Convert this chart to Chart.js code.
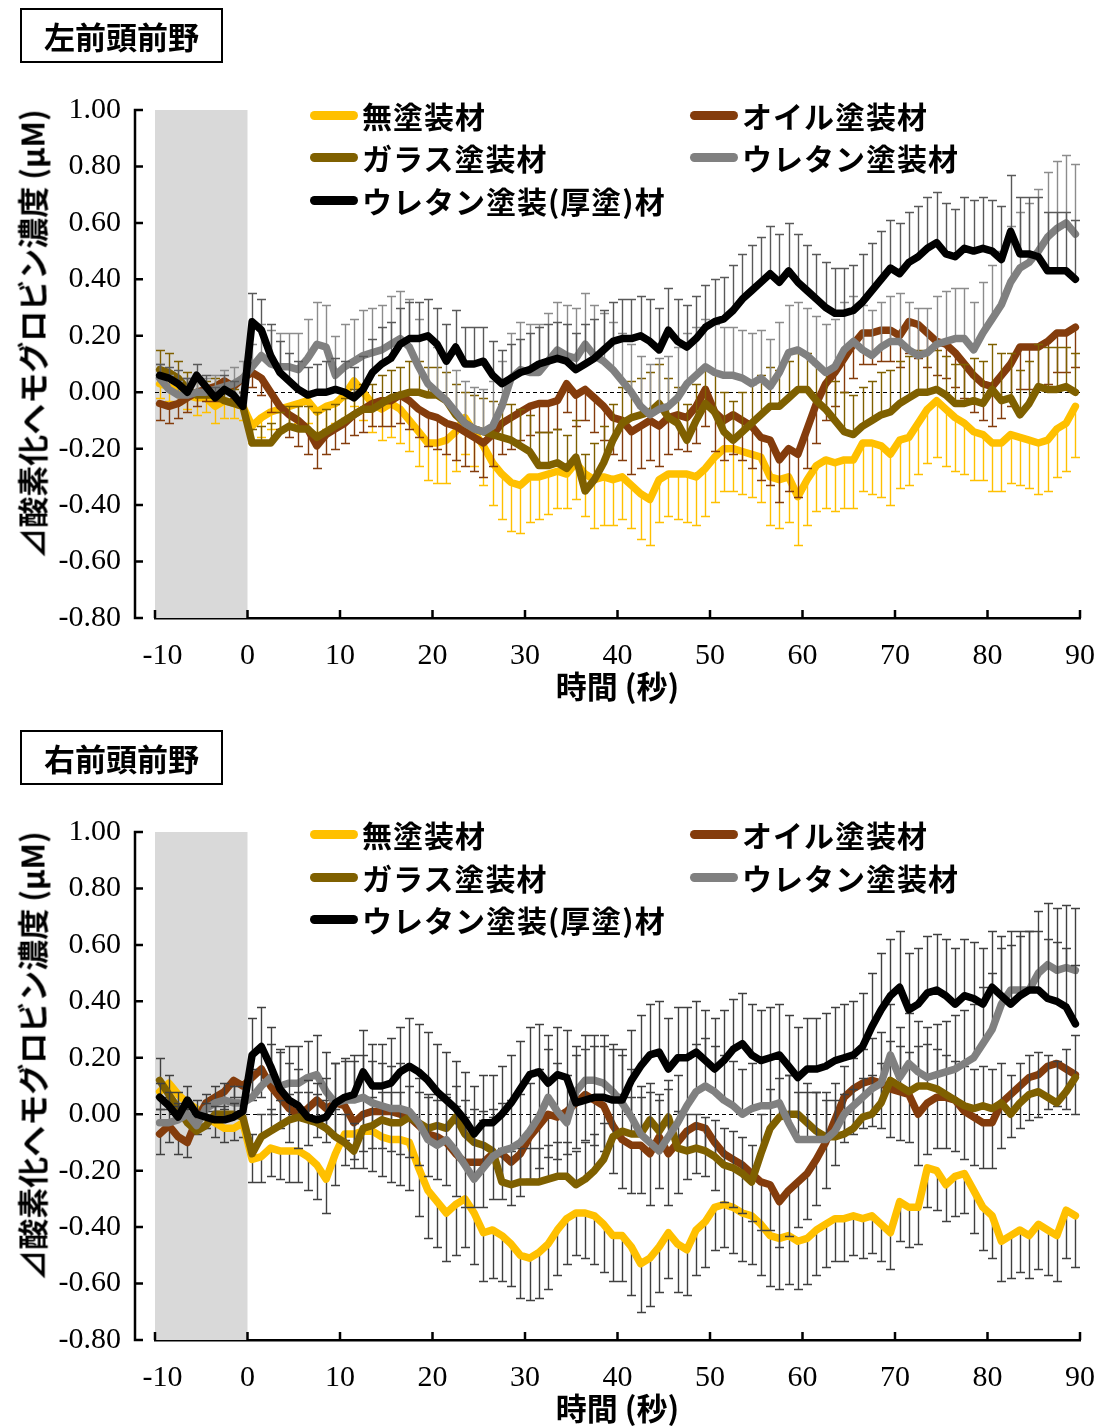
<!DOCTYPE html>
<html lang="ja">
<head>
<meta charset="utf-8">
<title>前頭前野 酸素化ヘモグロビン濃度変化</title>
<script src="https://cdn.jsdelivr.net/npm/chart.js@4.4.0/dist/chart.umd.min.js"></script>
<style>
html,body{margin:0;padding:0;background:#fff;}
body{width:1102px;height:1427px;position:relative;overflow:hidden;font-family:"Noto Sans CJK JP","Noto Sans",sans-serif;color:#000;}
.panel{position:absolute;left:0;width:1102px;height:705px;}
.panel canvas{position:absolute;left:0;top:0;}
.region{position:absolute;left:20px;top:8px;width:199px;height:51px;border:2px solid #000;display:flex;align-items:center;justify-content:center;font-weight:700;font-size:31px;line-height:1;}
.ytitle{position:absolute;left:31px;top:334px;white-space:nowrap;font-weight:700;font-size:31px;line-height:1;transform:translate(-50%,-50%) rotate(-90deg);}
.legend-item{position:absolute;height:40px;display:flex;align-items:center;font-weight:700;font-size:30px;line-height:1;white-space:nowrap;letter-spacing:1px;}
.legend-item .sw{width:48px;height:9px;border-radius:4.5px;margin-right:4px;}
</style>
</head>
<body>
<div class="panel" id="panelL" style="top:0px;">
  <canvas id="chartL" width="1102" height="705"></canvas>
  <div class="region">左前頭前野</div>
  <div class="ytitle">⊿酸素化ヘモグロビン濃度 (μM)</div>
</div>
<div class="panel" id="panelR" style="top:722px;">
  <canvas id="chartR" width="1102" height="705"></canvas>
  <div class="region">右前頭前野</div>
  <div class="ytitle">⊿酸素化ヘモグロビン濃度 (μM)</div>
</div>
<script>
// time of each sample (s); stimulus starts at 0
const TIME_S = [
 -9.5,-8.5,-7.5,-6.5,-5.5,-4.5,-3.5,-2.5,-1.5,-0.5,
 0.5,1.5,2.5,3.5,4.5,5.5,6.5,7.5,8.5,9.5,
 10.5,11.5,12.5,13.5,14.5,15.5,16.5,17.5,18.5,19.5,
 20.5,21.5,22.5,23.5,24.5,25.5,26.5,27.5,28.5,29.5,
 30.5,31.5,32.5,33.5,34.5,35.5,36.5,37.5,38.5,39.5,
 40.5,41.5,42.5,43.5,44.5,45.5,46.5,47.5,48.5,49.5,
 50.5,51.5,52.5,53.5,54.5,55.5,56.5,57.5,58.5,59.5,
 60.5,61.5,62.5,63.5,64.5,65.5,66.5,67.5,68.5,69.5,
 70.5,71.5,72.5,73.5,74.5,75.5,76.5,77.5,78.5,79.5,
 80.5,81.5,82.5,83.5,84.5,85.5,86.5,87.5,88.5,89.5
];
const BASELINE_S = [-10, 0];          // rest period shaded in grey
const X_RANGE = [-10, 90];
const Y_RANGE = [-0.8, 1.0];

const SERIES_NAMES = ['無塗装材','オイル塗装材','ガラス塗装材','ウレタン塗装材','ウレタン塗装(厚塗)材'];
const SERIES_COLORS = ['#FFC000','#843C0C','#7F6000','#808080','#000000'];
const X_TITLE = '時間 (秒)';

// ---- left prefrontal: mean ΔoxyHb (μM) ----
const L_MUTOSO = [
 0.03,0.02,0.00,-0.01,-0.02,-0.02,-0.05,-0.03,-0.04,-0.05,
 -0.12,-0.09,-0.07,-0.06,-0.05,-0.04,-0.03,-0.07,-0.05,-0.04,
 -0.01,0.04,0.00,-0.04,-0.06,-0.04,-0.06,-0.10,-0.14,-0.18,
 -0.18,-0.17,-0.14,-0.09,-0.14,-0.19,-0.25,-0.29,-0.32,-0.33,
 -0.30,-0.30,-0.29,-0.28,-0.29,-0.25,-0.29,-0.31,-0.30,-0.31,
 -0.30,-0.33,-0.36,-0.38,-0.31,-0.29,-0.29,-0.29,-0.30,-0.27,
 -0.23,-0.20,-0.20,-0.21,-0.22,-0.23,-0.30,-0.31,-0.30,-0.37,
 -0.31,-0.26,-0.24,-0.25,-0.24,-0.24,-0.18,-0.18,-0.19,-0.22,
 -0.17,-0.16,-0.11,-0.06,-0.03,-0.06,-0.09,-0.11,-0.14,-0.15,
 -0.18,-0.18,-0.15,-0.16,-0.17,-0.18,-0.17,-0.13,-0.11,-0.05
];
const L_OIL = [
 -0.04,-0.05,-0.04,-0.02,0.00,0.01,0.02,0.04,0.02,0.05,
 0.07,0.05,0.00,-0.05,-0.08,-0.10,-0.13,-0.19,-0.15,-0.13,
 -0.11,-0.08,-0.06,-0.04,-0.03,-0.03,-0.01,-0.03,-0.06,-0.08,
 -0.09,-0.11,-0.12,-0.14,-0.16,-0.18,-0.15,-0.11,-0.09,-0.07,
 -0.05,-0.04,-0.04,-0.03,0.03,-0.01,0.01,-0.02,-0.05,-0.09,
 -0.10,-0.14,-0.12,-0.10,-0.12,-0.09,-0.08,-0.09,-0.05,0.01,
 -0.07,-0.10,-0.08,-0.10,-0.12,-0.16,-0.17,-0.24,-0.20,-0.22,
 -0.13,-0.04,0.03,0.07,0.12,0.17,0.21,0.21,0.22,0.22,
 0.20,0.25,0.24,0.21,0.18,0.17,0.14,0.10,0.06,0.03,
 0.02,0.06,0.10,0.16,0.16,0.16,0.18,0.21,0.21,0.23
];
const L_GLASS = [
 0.08,0.07,0.05,0.01,-0.01,-0.01,-0.01,-0.03,-0.04,-0.05,
 -0.18,-0.18,-0.18,-0.14,-0.12,-0.13,-0.13,-0.16,-0.14,-0.12,
 -0.10,-0.08,-0.06,-0.06,-0.04,-0.02,-0.01,0.00,0.00,-0.01,
 -0.01,-0.03,-0.08,-0.11,-0.13,-0.14,-0.15,-0.16,-0.17,-0.19,
 -0.21,-0.26,-0.26,-0.25,-0.27,-0.23,-0.35,-0.31,-0.25,-0.17,
 -0.11,-0.09,-0.08,-0.07,-0.04,-0.09,-0.11,-0.17,-0.10,-0.04,
 -0.07,-0.14,-0.17,-0.14,-0.11,-0.08,-0.05,-0.05,-0.02,0.01,
 0.01,-0.03,-0.06,-0.10,-0.14,-0.15,-0.12,-0.10,-0.08,-0.07,
 -0.04,-0.02,0.00,0.00,0.01,-0.01,-0.04,-0.04,-0.03,-0.04,
 0.01,-0.03,-0.02,-0.08,-0.04,0.02,0.01,0.01,0.02,0.00
];
const L_URE = [
 0.05,0.01,-0.01,-0.01,0.00,0.00,0.01,0.02,0.03,0.05,
 0.09,0.13,0.10,0.09,0.09,0.08,0.12,0.17,0.16,0.06,
 0.09,0.11,0.13,0.14,0.15,0.17,0.19,0.16,0.09,0.03,
 0.00,-0.03,-0.07,-0.11,-0.13,-0.14,-0.12,-0.05,0.05,0.08,
 0.07,0.07,0.11,0.15,0.13,0.12,0.17,0.13,0.11,0.08,
 0.04,0.00,-0.05,-0.08,-0.06,-0.05,-0.02,0.03,0.06,0.09,
 0.07,0.06,0.06,0.05,0.03,0.05,0.02,0.07,0.14,0.15,
 0.13,0.10,0.07,0.09,0.15,0.18,0.15,0.13,0.16,0.18,
 0.18,0.15,0.13,0.14,0.17,0.18,0.19,0.19,0.15,0.21,
 0.26,0.31,0.39,0.44,0.46,0.50,0.55,0.58,0.60,0.56
];
const L_URE_THICK = [
 0.06,0.05,0.03,0.00,0.06,0.02,-0.02,0.01,-0.01,-0.05,
 0.25,0.22,0.13,0.07,0.04,0.01,-0.01,0.00,0.00,0.01,
 0.00,-0.02,0.01,0.07,0.10,0.12,0.17,0.19,0.19,0.20,
 0.17,0.11,0.16,0.10,0.10,0.11,0.06,0.03,0.05,0.07,
 0.08,0.10,0.11,0.12,0.11,0.08,0.10,0.12,0.15,0.18,
 0.19,0.19,0.20,0.18,0.15,0.22,0.18,0.16,0.19,0.23,
 0.25,0.26,0.29,0.33,0.36,0.39,0.42,0.39,0.43,0.39,
 0.36,0.33,0.30,0.28,0.28,0.29,0.32,0.36,0.40,0.44,
 0.42,0.46,0.48,0.51,0.53,0.49,0.48,0.51,0.50,0.51,
 0.50,0.47,0.57,0.49,0.49,0.48,0.43,0.43,0.43,0.40
];
// standard errors, left
const L_MUTOSO_SE = [
 0.05,0.05,0.04,0.05,0.06,0.05,0.06,0.06,0.05,0.05,
 0.06,0.07,0.06,0.08,0.07,0.07,0.08,0.07,0.08,0.07,
 0.08,0.09,0.10,0.10,0.11,0.12,0.12,0.11,0.12,0.13,
 0.14,0.15,0.14,0.13,0.12,0.14,0.15,0.16,0.17,0.17,
 0.16,0.15,0.14,0.13,0.12,0.13,0.15,0.17,0.17,0.16,
 0.15,0.15,0.16,0.16,0.15,0.15,0.16,0.17,0.17,0.17,
 0.16,0.15,0.15,0.15,0.15,0.16,0.17,0.17,0.16,0.17,
 0.16,0.16,0.17,0.17,0.17,0.17,0.17,0.18,0.18,0.18,
 0.17,0.17,0.18,0.19,0.20,0.20,0.19,0.18,0.17,0.16,
 0.17,0.17,0.17,0.17,0.17,0.18,0.18,0.17,0.17,0.18
];
const L_OIL_SE = [
 0.06,0.06,0.05,0.05,0.05,0.04,0.05,0.04,0.04,0.05,
 0.05,0.06,0.07,0.08,0.08,0.09,0.09,0.08,0.07,0.07,
 0.07,0.07,0.08,0.08,0.09,0.09,0.10,0.10,0.10,0.11,
 0.11,0.11,0.12,0.12,0.12,0.12,0.11,0.11,0.11,0.10,
 0.10,0.10,0.10,0.10,0.10,0.11,0.11,0.12,0.12,0.13,
 0.14,0.15,0.15,0.14,0.14,0.13,0.12,0.12,0.13,0.13,
 0.14,0.14,0.14,0.14,0.15,0.15,0.16,0.15,0.15,0.15,
 0.14,0.14,0.13,0.12,0.12,0.12,0.11,0.11,0.11,0.11,
 0.11,0.11,0.12,0.12,0.12,0.12,0.12,0.12,0.13,0.13,
 0.14,0.15,0.15,0.15,0.15,0.15,0.15,0.14,0.14,0.14
];
const L_GLASS_SE = [
 0.07,0.07,0.06,0.06,0.05,0.05,0.06,0.05,0.05,0.05,
 0.05,0.06,0.07,0.07,0.07,0.08,0.08,0.09,0.08,0.08,
 0.08,0.09,0.09,0.09,0.10,0.10,0.10,0.11,0.11,0.10,
 0.10,0.10,0.11,0.11,0.12,0.12,0.12,0.12,0.13,0.13,
 0.13,0.12,0.12,0.12,0.12,0.13,0.13,0.13,0.13,0.13,
 0.13,0.13,0.13,0.14,0.14,0.14,0.13,0.13,0.13,0.13,
 0.14,0.14,0.14,0.14,0.14,0.14,0.14,0.13,0.13,0.13,
 0.13,0.13,0.14,0.14,0.14,0.14,0.14,0.14,0.15,0.15,
 0.15,0.15,0.15,0.15,0.14,0.14,0.14,0.14,0.15,0.15,
 0.16,0.17,0.16,0.16,0.15,0.15,0.15,0.15,0.14,0.14
];
const L_URE_SE = [
 0.05,0.05,0.05,0.06,0.05,0.05,0.05,0.06,0.06,0.06,
 0.08,0.11,0.12,0.12,0.12,0.13,0.14,0.15,0.15,0.14,
 0.15,0.15,0.16,0.16,0.16,0.17,0.17,0.17,0.17,0.16,
 0.16,0.16,0.15,0.15,0.15,0.15,0.16,0.16,0.16,0.17,
 0.17,0.17,0.17,0.17,0.18,0.18,0.18,0.18,0.17,0.17,
 0.17,0.17,0.18,0.18,0.18,0.18,0.18,0.18,0.17,0.17,
 0.17,0.17,0.17,0.17,0.18,0.17,0.17,0.18,0.17,0.17,
 0.17,0.17,0.17,0.17,0.17,0.16,0.16,0.16,0.16,0.16,
 0.17,0.17,0.17,0.16,0.17,0.18,0.18,0.18,0.17,0.18,
 0.19,0.19,0.20,0.20,0.21,0.22,0.23,0.24,0.24,0.25
];
const L_URE_THICK_SE = [
 0.04,0.04,0.05,0.05,0.04,0.04,0.04,0.05,0.05,0.05,
 0.10,0.11,0.11,0.11,0.10,0.10,0.10,0.10,0.11,0.11,
 0.11,0.11,0.12,0.12,0.13,0.13,0.13,0.13,0.13,0.13,
 0.13,0.13,0.13,0.13,0.13,0.12,0.12,0.12,0.12,0.12,
 0.13,0.13,0.13,0.13,0.13,0.13,0.14,0.14,0.14,0.14,
 0.14,0.14,0.14,0.15,0.15,0.15,0.15,0.15,0.15,0.15,
 0.15,0.15,0.16,0.16,0.16,0.16,0.17,0.17,0.17,0.17,
 0.16,0.16,0.16,0.16,0.16,0.16,0.17,0.17,0.17,0.17,
 0.18,0.18,0.18,0.18,0.18,0.18,0.17,0.18,0.18,0.18,
 0.18,0.19,0.20,0.20,0.20,0.21,0.21,0.21,0.21,0.21
];

// ---- right prefrontal: mean ΔoxyHb (μM) ----
const R_MUTOSO = [
 0.08,0.11,0.07,0.04,0.02,-0.01,-0.03,-0.05,-0.05,-0.03,
 -0.16,-0.15,-0.12,-0.13,-0.13,-0.13,-0.15,-0.18,-0.23,-0.14,
 -0.07,-0.07,-0.06,-0.06,-0.08,-0.09,-0.09,-0.10,-0.19,-0.27,
 -0.31,-0.35,-0.32,-0.30,-0.35,-0.42,-0.41,-0.43,-0.46,-0.50,
 -0.51,-0.49,-0.46,-0.41,-0.37,-0.35,-0.35,-0.36,-0.39,-0.43,
 -0.43,-0.47,-0.53,-0.51,-0.47,-0.42,-0.46,-0.48,-0.41,-0.38,
 -0.33,-0.32,-0.33,-0.35,-0.36,-0.39,-0.43,-0.44,-0.43,-0.45,
 -0.44,-0.41,-0.39,-0.37,-0.37,-0.36,-0.37,-0.36,-0.39,-0.42,
 -0.31,-0.33,-0.33,-0.19,-0.20,-0.25,-0.22,-0.21,-0.27,-0.33,
 -0.36,-0.45,-0.43,-0.41,-0.43,-0.39,-0.41,-0.43,-0.34,-0.36
];
const R_OIL = [
 -0.07,-0.04,-0.08,-0.10,-0.02,0.04,0.06,0.08,0.12,0.10,
 0.13,0.16,0.10,0.06,0.02,0.00,0.02,0.05,0.02,0.04,
 0.03,-0.03,0.00,0.01,0.01,0.01,0.00,-0.01,-0.04,-0.07,
 -0.08,-0.10,-0.14,-0.17,-0.17,-0.17,-0.14,-0.14,-0.17,-0.14,
 -0.08,-0.04,0.00,-0.01,0.01,0.04,0.07,0.05,0.03,-0.04,
 -0.09,-0.11,-0.11,-0.14,-0.08,-0.14,-0.10,-0.06,-0.04,-0.05,
 -0.10,-0.14,-0.16,-0.18,-0.21,-0.24,-0.25,-0.31,-0.27,-0.24,
 -0.21,-0.16,-0.10,-0.02,0.06,0.09,0.11,0.12,0.11,0.09,
 0.08,0.07,0.00,0.04,0.06,0.06,0.05,0.01,-0.01,-0.03,
 -0.03,0.04,0.07,0.10,0.13,0.14,0.17,0.18,0.16,0.14
];
const R_GLASS = [
 0.12,0.07,0.02,-0.03,-0.06,-0.04,0.00,0.00,0.00,-0.01,
 -0.14,-0.08,-0.06,-0.04,-0.02,-0.01,-0.02,-0.03,-0.05,-0.08,
 -0.10,-0.13,-0.05,-0.04,-0.02,-0.03,-0.03,-0.01,-0.03,-0.05,
 -0.04,-0.05,-0.01,-0.07,-0.10,-0.11,-0.13,-0.24,-0.25,-0.24,
 -0.24,-0.24,-0.23,-0.22,-0.22,-0.25,-0.23,-0.20,-0.16,-0.08,
 -0.06,-0.07,-0.07,-0.02,-0.06,-0.01,-0.12,-0.13,-0.12,-0.13,
 -0.15,-0.18,-0.19,-0.21,-0.24,-0.14,-0.05,-0.01,0.00,0.00,
 -0.03,-0.06,-0.08,-0.08,-0.07,-0.05,-0.01,0.00,0.04,0.12,
 0.10,0.08,0.10,0.10,0.09,0.07,0.05,0.03,0.02,0.03,
 0.02,0.04,0.00,0.04,0.07,0.08,0.06,0.04,0.08,0.13
];
const R_URE = [
 -0.03,-0.03,-0.02,0.00,-0.04,0.02,0.04,0.05,0.04,0.04,
 0.06,0.10,0.13,0.10,0.11,0.11,0.13,0.14,0.08,0.04,
 0.05,0.05,0.06,0.04,0.03,0.02,0.02,0.01,-0.03,-0.09,
 -0.11,-0.09,-0.13,-0.18,-0.23,-0.19,-0.15,-0.13,-0.12,-0.10,
 -0.06,-0.01,0.06,0.01,-0.03,0.08,0.12,0.12,0.11,0.08,
 0.04,-0.01,-0.07,-0.10,-0.13,-0.08,-0.03,0.03,0.08,0.10,
 0.08,0.05,0.03,0.00,0.02,0.03,0.03,0.04,-0.03,-0.09,
 -0.09,-0.09,-0.09,-0.06,0.00,0.03,0.06,0.09,0.11,0.21,
 0.13,0.18,0.15,0.13,0.14,0.15,0.16,0.18,0.20,0.25,
 0.30,0.39,0.44,0.44,0.44,0.50,0.53,0.51,0.52,0.51
];
const R_URE_THICK = [
 0.06,0.03,-0.01,0.05,0.00,-0.01,-0.02,-0.02,-0.01,0.01,
 0.21,0.24,0.17,0.09,0.05,0.03,-0.01,-0.02,-0.01,0.04,
 0.06,0.07,0.15,0.10,0.10,0.11,0.15,0.17,0.15,0.12,
 0.08,0.05,0.02,-0.02,-0.07,-0.03,-0.03,0.00,0.04,0.09,
 0.14,0.15,0.11,0.14,0.13,0.04,0.05,0.06,0.06,0.05,
 0.05,0.12,0.17,0.21,0.22,0.16,0.20,0.20,0.22,0.19,
 0.16,0.19,0.23,0.25,0.21,0.19,0.20,0.21,0.17,0.13,
 0.16,0.16,0.17,0.19,0.20,0.21,0.24,0.31,0.37,0.42,
 0.45,0.37,0.39,0.43,0.44,0.42,0.39,0.42,0.41,0.39,
 0.45,0.42,0.39,0.42,0.44,0.44,0.41,0.40,0.38,0.32
];
// standard errors, right
const R_MUTOSO_SE = [
 0.06,0.05,0.05,0.04,0.04,0.04,0.05,0.05,0.04,0.05,
 0.08,0.09,0.10,0.10,0.11,0.11,0.12,0.12,0.12,0.11,
 0.11,0.12,0.13,0.14,0.14,0.15,0.16,0.17,0.17,0.17,
 0.16,0.17,0.18,0.17,0.18,0.17,0.17,0.16,0.15,0.15,
 0.15,0.16,0.16,0.16,0.16,0.15,0.16,0.17,0.17,0.16,
 0.16,0.17,0.17,0.17,0.16,0.16,0.17,0.16,0.16,0.16,
 0.15,0.15,0.16,0.17,0.17,0.18,0.18,0.18,0.17,0.17,
 0.16,0.16,0.15,0.15,0.15,0.14,0.14,0.13,0.13,0.13,
 0.14,0.14,0.13,0.14,0.14,0.13,0.14,0.14,0.15,0.15,
 0.15,0.14,0.15,0.15,0.15,0.16,0.16,0.16,0.17,0.18
];
const R_OIL_SE = [
 0.07,0.06,0.06,0.05,0.05,0.05,0.05,0.06,0.06,0.06,
 0.08,0.10,0.10,0.11,0.12,0.12,0.13,0.13,0.12,0.12,
 0.12,0.13,0.13,0.13,0.13,0.14,0.14,0.14,0.14,0.15,
 0.15,0.15,0.15,0.16,0.16,0.16,0.16,0.16,0.15,0.15,
 0.15,0.15,0.15,0.15,0.15,0.16,0.16,0.16,0.16,0.17,
 0.17,0.17,0.17,0.18,0.18,0.18,0.18,0.17,0.17,0.17,
 0.17,0.17,0.17,0.17,0.17,0.17,0.16,0.16,0.16,0.16,
 0.16,0.16,0.16,0.16,0.16,0.16,0.16,0.16,0.16,0.17,
 0.17,0.17,0.18,0.18,0.18,0.18,0.18,0.17,0.17,0.16,
 0.16,0.16,0.15,0.15,0.15,0.15,0.15,0.15,0.14,0.14
];
const R_GLASS_SE = [
 0.08,0.07,0.06,0.05,0.05,0.05,0.05,0.05,0.05,0.05,
 0.07,0.08,0.08,0.09,0.09,0.09,0.10,0.10,0.10,0.10,
 0.10,0.10,0.10,0.10,0.10,0.11,0.11,0.11,0.11,0.11,
 0.11,0.11,0.11,0.12,0.12,0.12,0.12,0.12,0.12,0.12,
 0.12,0.12,0.12,0.12,0.12,0.12,0.13,0.13,0.13,0.13,
 0.13,0.13,0.13,0.13,0.13,0.13,0.13,0.13,0.12,0.12,
 0.13,0.13,0.13,0.13,0.13,0.14,0.14,0.14,0.14,0.14,
 0.14,0.14,0.13,0.13,0.14,0.14,0.14,0.14,0.14,0.14,
 0.14,0.14,0.14,0.15,0.14,0.14,0.14,0.14,0.14,0.14,
 0.14,0.14,0.14,0.14,0.14,0.14,0.15,0.15,0.15,0.15
];
const R_URE_SE = [
 0.05,0.05,0.05,0.05,0.05,0.05,0.06,0.06,0.06,0.06,
 0.10,0.12,0.12,0.12,0.13,0.13,0.13,0.14,0.14,0.14,
 0.14,0.14,0.15,0.15,0.15,0.15,0.16,0.16,0.16,0.16,
 0.16,0.16,0.16,0.17,0.17,0.17,0.17,0.17,0.17,0.17,
 0.17,0.17,0.17,0.17,0.17,0.16,0.16,0.16,0.17,0.17,
 0.17,0.17,0.17,0.18,0.18,0.17,0.17,0.17,0.17,0.17,
 0.16,0.16,0.16,0.16,0.16,0.17,0.17,0.17,0.17,0.17,
 0.17,0.17,0.17,0.17,0.17,0.17,0.17,0.18,0.18,0.18,
 0.18,0.18,0.18,0.18,0.18,0.18,0.19,0.19,0.19,0.20,
 0.20,0.20,0.21,0.21,0.21,0.22,0.22,0.22,0.22,0.22
];
const R_URE_THICK_SE = [
 0.05,0.05,0.05,0.05,0.05,0.05,0.05,0.05,0.05,0.05,
 0.13,0.14,0.14,0.14,0.13,0.13,0.13,0.13,0.14,0.14,
 0.14,0.14,0.15,0.15,0.15,0.16,0.16,0.17,0.17,0.17,
 0.17,0.17,0.17,0.17,0.17,0.17,0.17,0.17,0.17,0.17,
 0.17,0.17,0.17,0.17,0.17,0.17,0.18,0.18,0.18,0.18,
 0.18,0.18,0.18,0.18,0.18,0.18,0.18,0.18,0.18,0.18,
 0.18,0.18,0.18,0.18,0.18,0.18,0.18,0.18,0.18,0.18,
 0.18,0.18,0.19,0.19,0.19,0.19,0.19,0.19,0.20,0.20,
 0.20,0.20,0.20,0.20,0.20,0.20,0.20,0.20,0.20,0.20,
 0.20,0.21,0.21,0.21,0.21,0.21,0.21,0.21,0.21,0.21
];

// error bar direction per series: -1 drawn below the mean, +1 above
const ERR_DIR = [-1, -1, 1, 1, 1];

// ---- plugins ----
const restBand = {
  id: 'restBand',
  beforeDatasetsDraw(chart) {
    const {ctx, chartArea, scales: {x, y}} = chart;
    const x0 = x.getPixelForValue(BASELINE_S[0]);
    const x1 = x.getPixelForValue(BASELINE_S[1]);
    const yTop = y.getPixelForValue(Y_RANGE[1]);
    const yBot = y.getPixelForValue(Y_RANGE[0]);
    ctx.save();
    ctx.fillStyle = '#D9D9D9';
    ctx.fillRect(x0, yTop, x1 - x0, yBot - yTop);
    const y0 = Math.round(y.getPixelForValue(0)) + 0.5;
    ctx.strokeStyle = '#000';
    ctx.lineWidth = 1.2;
    ctx.setLineDash([4, 3]);
    ctx.beginPath();
    ctx.moveTo(chartArea.left, y0);
    ctx.lineTo(chartArea.right, y0);
    ctx.stroke();
    ctx.restore();
  }
};

const errorBars = {
  id: 'errorBars',
  beforeDatasetDraw(chart, args, opts) {
    const ds = chart.data.datasets[args.index];
    const se = opts.errors[args.index];
    if (!se) return;
    const {ctx, scales: {x, y}} = chart;
    const dir = ERR_DIR[args.index];
    ctx.save();
    ctx.strokeStyle = opts.colors[args.index];
    ctx.lineWidth = 1.4;
    ctx.setLineDash([]);
    ctx.beginPath();
    ds.data.forEach((p, i) => {
      const px = Math.round(x.getPixelForValue(p.x)) + 0.5;
      const py = y.getPixelForValue(p.y);
      const pe = Math.round(y.getPixelForValue(p.y + dir * se[i])) + 0.5;
      ctx.moveTo(px, py);
      ctx.lineTo(px, pe);
      ctx.moveTo(px - 4.5, pe);
      ctx.lineTo(px + 4.5, pe);
    });
    ctx.stroke();
    ctx.restore();
  }
};

const axisFrame = {
  id: 'axisFrame',
  afterDraw(chart) {
    const {ctx, chartArea, scales: {x, y}} = chart;
    const ax = chartArea.left - 20;
    const yTop = y.getPixelForValue(Y_RANGE[1]);
    const yBot = y.getPixelForValue(Y_RANGE[0]);
    ctx.save();
    ctx.strokeStyle = '#000';
    ctx.lineWidth = 2.5;
    ctx.lineCap = 'butt';
    ctx.beginPath();
    ctx.moveTo(ax, yTop - 1);
    ctx.lineTo(ax, yBot + 1.2);
    y.ticks.forEach(t => {
      const py = y.getPixelForValue(t.value);
      ctx.moveTo(ax - 1.2, py);
      ctx.lineTo(ax + 8, py);
    });
    x.ticks.forEach(t => {
      const px = x.getPixelForValue(t.value);
      ctx.moveTo(px, chartArea.bottom);
      ctx.lineTo(px, chartArea.bottom - 8);
    });
    ctx.stroke();
    ctx.restore();
  }
};

function buildChart(canvasId, values, errors, errColors) {
  const datasets = values.map((vals, k) => ({
    label: SERIES_NAMES[k],
    data: TIME_S.map((t, i) => ({x: t, y: vals[i]})),
    borderColor: SERIES_COLORS[k],
    backgroundColor: SERIES_COLORS[k],
    borderWidth: 7.5,
    borderJoinStyle: 'round',
    borderCapStyle: 'round',
    pointRadius: 0,
    tension: 0,
    fill: false,
    order: 5 - k
  }));
  return new Chart(document.getElementById(canvasId), {
    type: 'line',
    data: {datasets},
    plugins: [restBand, errorBars, axisFrame],
    options: {
      responsive: false,
      animation: false,
      events: [],
      layout: {padding: {left: 0, right: 22, top: 110, bottom: 0}},
      plugins: {
        legend: {display: false},
        tooltip: {enabled: false},
        errorBars: {errors, colors: errColors}
      },
      scales: {
        x: {
          type: 'linear',
          min: X_RANGE[0], max: X_RANGE[1],
          ticks: {stepSize: 10, autoSkip: false, maxRotation: 0, color: '#000', padding: 20,
                  font: {family: '"Liberation Serif", "Times New Roman", serif', size: 30},
                  // the first label sits a little right of its tick
                  callback: v => (v === X_RANGE[0] ? '\u2002' + v : String(v))},
          grid: {display: false, drawTicks: false},
          border: {display: true, color: '#000', width: 2.5},
          title: {display: true, text: X_TITLE, color: '#000', padding: {top: 0, bottom: 0},
                  font: {family: '"Noto Sans CJK JP", sans-serif', size: 31, weight: 'bold'}},
          afterFit(scale) { scale.height = 87; scale.paddingLeft = 0; scale.paddingRight = 0; }
        },
        y: {
          min: Y_RANGE[0], max: Y_RANGE[1],
          ticks: {stepSize: 0.2, color: '#000', padding: 34,
                  font: {family: '"Liberation Serif", "Times New Roman", serif', size: 30},
                  callback: v => (Math.abs(v) < 1e-9 ? 0 : v).toFixed(2)},
          grid: {display: false, drawTicks: false},
          border: {display: false},
          afterFit(scale) { scale.width = 155; scale.paddingTop = 0; scale.paddingBottom = 0; }
        }
      }
    }
  });
}

function buildLegend(panelId, rows) {
  const panel = document.getElementById(panelId);
  const slots = [[310, rows[0]], [690, rows[0]], [310, rows[1]], [690, rows[1]], [310, rows[2]]];
  SERIES_NAMES.forEach((name, k) => {
    const item = document.createElement('div');
    item.className = 'legend-item';
    item.style.left = slots[k][0] + 'px';
    item.style.top = (slots[k][1] - 20) + 'px';
    const sw = document.createElement('span');
    sw.className = 'sw';
    sw.style.background = SERIES_COLORS[k];
    const label = document.createElement('span');
    label.textContent = name;
    item.appendChild(sw);
    item.appendChild(label);
    panel.appendChild(item);
  });
}

const darkBar = '#404040';
buildChart('chartL',
  [L_MUTOSO, L_OIL, L_GLASS, L_URE, L_URE_THICK],
  [L_MUTOSO_SE, L_OIL_SE, L_GLASS_SE, L_URE_SE, L_URE_THICK_SE],
  ['#FFC000', '#843C0C', '#7F6000', '#8C8C8C', '#595959']);
buildChart('chartR',
  [R_MUTOSO, R_OIL, R_GLASS, R_URE, R_URE_THICK],
  [R_MUTOSO_SE, R_OIL_SE, R_GLASS_SE, R_URE_SE, R_URE_THICK_SE],
  [darkBar, darkBar, darkBar, darkBar, darkBar]);
buildLegend('panelL', [115, 157, 200]);
buildLegend('panelR', [112, 155, 197]);
</script>
</body>
</html>
